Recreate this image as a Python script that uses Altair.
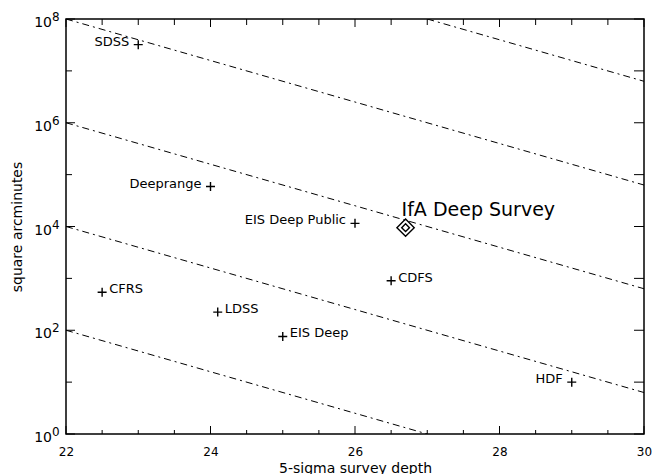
import altair as alt
import pandas as pd

# ---- data ----
survey = ["SDSS", "Deeprange", "EIS Deep Public", "CFRS", "LDSS", "EIS Deep", "CDFS", "HDF"]
depth = [23.0, 24.0, 26.0, 22.5, 24.1, 25.0, 26.5, 29.0]
area = [3.2e7, 5.9e4, 1.15e4, 540, 224, 76, 900, 10]
left_labelled = ["SDSS", "Deeprange", "EIS Deep Public", "HDF"]

ifa_name = ["IfA Deep Survey"]
ifa_depth = [26.7]
ifa_area = [9.5e3]

line_id = ["a", "b", "c", "d", "e"]
line_x0 = [27.0, 22.0, 22.0, 22.0, 22.0]
line_y0 = [1e8, 1e8, 1e6, 1e4, 1e2]
line_x1 = [30.0, 30.0, 30.0, 30.0, 27.0]
line_y1 = [6.3e6, 6.3e4, 631, 6.3, 1]

x_major = [22, 24, 26, 28, 30]
x_minor = [22.5, 23, 23.5, 24.5, 25, 25.5, 26.5, 27, 27.5, 28.5, 29, 29.5]
y_major = [1, 1e2, 1e4, 1e6, 1e8]
y_minor = [10, 1e3, 1e5, 1e7]
y_exp = ["0", "2", "4", "6", "8"]

# ---- tables ----
pts = pd.DataFrame({"survey": survey, "depth": depth, "area": area})
ifa = pd.DataFrame({"survey": ifa_name, "depth": ifa_depth, "area": ifa_area})
lines = pd.DataFrame({
    "line": line_id + line_id,
    "depth": line_x0 + line_x1,
    "area": line_y0 + line_y1,
})
xmaj = pd.DataFrame({"depth": x_major})
xmin = pd.DataFrame({"depth": x_minor})
ymaj = pd.DataFrame({"area": y_major, "e": y_exp})
ymin = pd.DataFrame({"area": y_minor})

W, H = 578, 415
FONT = "DejaVu Sans"
xs = alt.Scale(domain=[22, 30], nice=False, zero=False)
ys = alt.Scale(type="log", domain=[1, 1e8], nice=False)

xa = alt.Axis(values=x_major, ticks=False, domain=False, grid=False,
              labelFont=FONT, labelFontSize=12, labelColor="black",
              labelPadding=12, labelFlush=False,
              title="5-sigma survey depth", titleFont=FONT,
              titleFontSize=14, titleFontWeight="normal",
              titleColor="black", titleY=38, titleBaseline="alphabetic")
ya = alt.Axis(labels=False, ticks=False, domain=False, grid=False,
              title="square arcminutes", titleFont=FONT,
              titleFontSize=14, titleFontWeight="normal",
              titleColor="black", titleX=-49, titleY=H / 2,
              titleAlign="center", titleBaseline="middle")

X = alt.X("depth:Q", scale=xs, axis=xa)
Y = alt.Y("area:Q", scale=ys, axis=ya)

PLUS = "M-1,0L1,0M0,-1L0,1"
DIAM = "M0,-1L1,0L0,1L-1,0Z"

base_pts = alt.Chart(pts)

points = base_pts.mark_point(shape=PLUS, size=81, filled=False, color="black",
                             strokeWidth=1.4, opacity=1).encode(x=X, y=Y)

labels_left = base_pts.mark_text(align="right", baseline="middle", dx=-9, dy=-3,
                                 font=FONT, fontSize=13, color="black").encode(
    x=X, y=Y, text="survey:N",
).transform_filter(alt.FieldOneOfPredicate(field="survey", oneOf=left_labelled))

labels_right = base_pts.mark_text(align="left", baseline="middle", dx=7, dy=-3,
                                  font=FONT, fontSize=13, color="black").encode(
    x=X, y=Y, text="survey:N",
).transform_filter(~alt.FieldOneOfPredicate(field="survey", oneOf=left_labelled))

ifa_outer = alt.Chart(ifa).mark_point(shape=DIAM, size=300, filled=False, color="black",
                                      strokeWidth=1.4, opacity=1).encode(x=X, y=Y)
ifa_inner = alt.Chart(ifa).mark_point(shape=DIAM, size=60, filled=False, color="black",
                                      strokeWidth=1.4, opacity=1).encode(x=X, y=Y)
ifa_label = alt.Chart(ifa).mark_text(align="left", baseline="alphabetic", dx=-4, dy=-12,
                                     font=FONT, fontSize=19, color="black").encode(
    x=X, y=Y, text="survey:N")

guide_lines = alt.Chart(lines).mark_line(color="black", strokeWidth=1,
                                         strokeDash=[7, 4, 2, 4], clip=True).encode(
    x=X, y=Y, detail="line:N", order="depth:Q",
)


def vtick(df, y0, y1):
    return alt.Chart(df).mark_rule(color="black", strokeWidth=1).encode(
        x=X, y=alt.value(y0), y2=alt.value(y1))


def htick(df, x0, x1):
    return alt.Chart(df).mark_rule(color="black", strokeWidth=1).encode(
        y=Y, x=alt.value(x0), x2=alt.value(x1))


ticks = [
    vtick(xmaj, H, H - 8), vtick(xmin, H, H - 4),
    vtick(xmaj, 0, 8), vtick(xmin, 0, 6),
    htick(ymaj, 0, 9), htick(ymin, 0, 6),
    htick(ymaj, W, W - 10), htick(ymin, W, W - 10),
]

ylab_base = alt.Chart(ymaj).mark_text(align="right", baseline="middle", dy=4,
                                      font=FONT, fontSize=14, color="black").encode(
    y=Y, x=alt.value(-14), text=alt.value("10"))
ylab_exp = alt.Chart(ymaj).mark_text(align="left", baseline="middle", dy=-2,
                                     font=FONT, fontSize=12, color="black").encode(
    y=Y, x=alt.value(-14), text="e:N")

chart = alt.layer(
    guide_lines, *ticks, ylab_base, ylab_exp,
    points, labels_left, labels_right, ifa_outer, ifa_inner, ifa_label,
).properties(
    width=W, height=H,
    autosize=alt.AutoSizeParams(type="none"),
    padding={"left": 58, "top": 11, "right": 8, "bottom": 40},
    background="white",
).configure_view(stroke="black", strokeWidth=1.5)

chart.save("out.html", embed_options={"renderer": "svg", "actions": False})
